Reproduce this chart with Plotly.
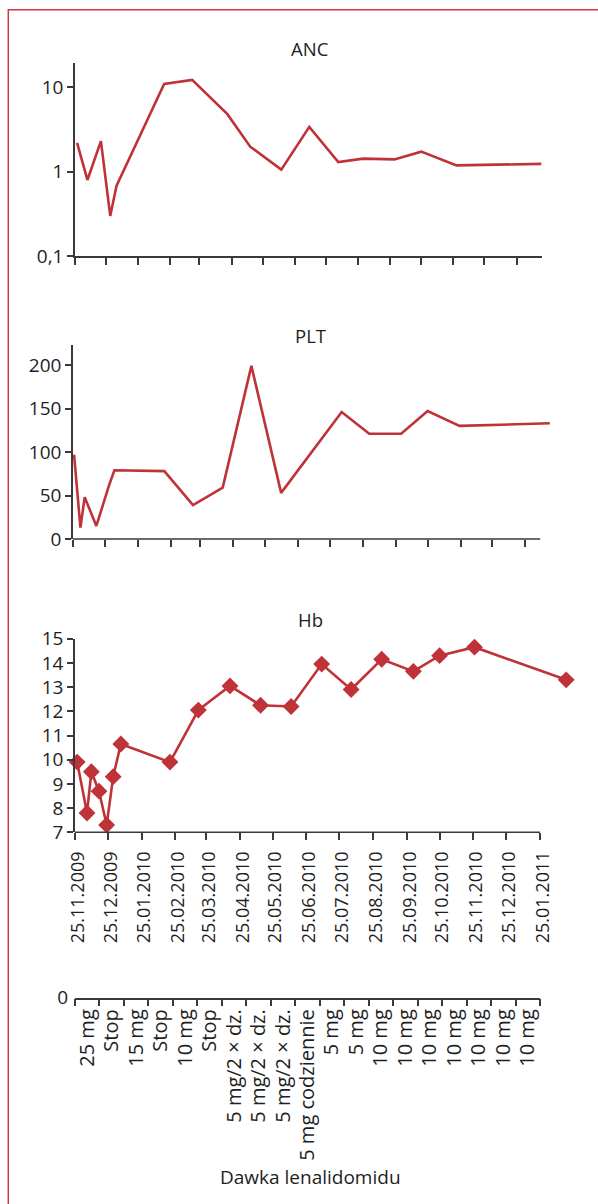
import plotly.graph_objects as go

W, H = 598, 1204

# ---------------- data ----------------
anc_dates = ["2009-11-27", "2009-12-07", "2009-12-20", "2009-12-29", "2010-01-04",
             "2010-02-19", "2010-03-18", "2010-04-21", "2010-05-13", "2010-06-12",
             "2010-07-09", "2010-08-06", "2010-08-30", "2010-09-29", "2010-10-25",
             "2010-11-28", "2011-02-18"]
anc_values = [2.2, 0.8, 2.3, 0.3, 0.68, 10.9, 12.2, 4.8, 1.98, 1.06,
              3.4, 1.3, 1.43, 1.4, 1.73, 1.19, 1.24]

plt_dates = ["2009-11-26", "2009-12-02", "2009-12-06", "2009-12-17", "2009-12-29",
             "2010-01-03", "2010-02-19", "2010-03-18", "2010-04-15", "2010-05-12",
             "2010-06-09", "2010-08-05", "2010-08-31", "2010-09-30", "2010-10-25",
             "2010-11-24", "2011-02-17"]
plt_values = [97, 13, 48, 15, 62, 79, 78, 39, 59, 199, 53, 146, 121, 121, 147, 130, 133]

hb_dates = ["2009-11-27", "2009-12-06", "2009-12-10", "2009-12-17", "2009-12-24",
            "2009-12-30", "2010-01-06", "2010-02-20", "2010-03-18", "2010-04-16",
            "2010-05-14", "2010-06-11", "2010-07-09", "2010-08-05", "2010-09-02",
            "2010-10-01", "2010-10-25", "2010-11-26", "2011-02-18"]
hb_values = [9.9, 7.8, 9.5, 8.7, 7.3, 9.3, 10.65, 9.9, 12.05, 13.05,
             12.25, 12.2, 13.95, 12.9, 14.15, 13.65, 14.3, 14.65, 13.3]

month_ticks = ["2009-11-25", "2009-12-25", "2010-01-25", "2010-02-25", "2010-03-25",
               "2010-04-25", "2010-05-25", "2010-06-25", "2010-07-25", "2010-08-25",
               "2010-09-25", "2010-10-25", "2010-11-25", "2010-12-25", "2011-01-25"]

doses = ["25 mg", "Stop", "15 mg", "Stop", "10 mg", "Stop",
         "5 mg/2 × dz.", "5 mg/2 × dz.", "5 mg/2 × dz.", "5 mg codziennie",
         "5 mg", "5 mg", "10 mg", "10 mg", "10 mg", "10 mg", "10 mg", "10 mg", "10 mg"]

# ---------------- style ----------------
RED = "#bf3238"
BORDER = "#cc3a44"
AX = "#3a3a3a"
TXT = "#1e1e1e"
FONT = "Open Sans"


def px_x(p):
    return p / W


def px_y(p):
    return 1 - p / H


fig = go.Figure()

fig.add_trace(go.Scatter(x=anc_dates, y=anc_values, mode="lines",
                         line=dict(color=RED, width=2.6), xaxis="x", yaxis="y",
                         showlegend=False, hoverinfo="skip"))
fig.add_trace(go.Scatter(x=plt_dates, y=plt_values, mode="lines",
                         line=dict(color=RED, width=2.6), xaxis="x2", yaxis="y2",
                         showlegend=False, hoverinfo="skip"))
fig.add_trace(go.Scatter(x=hb_dates, y=hb_values, mode="lines+markers",
                         line=dict(color=RED, width=2.6),
                         marker=dict(symbol="diamond", size=13, color=RED),
                         xaxis="x3", yaxis="y3", showlegend=False, hoverinfo="skip",
                         cliponaxis=False))
fig.add_trace(go.Scatter(x=list(range(len(doses))), y=[0] * len(doses), mode="markers",
                         marker=dict(opacity=0), xaxis="x4", yaxis="y4",
                         showlegend=False, hoverinfo="skip"))

tickfont = dict(family=FONT, size=19, color=TXT)

common_x = dict(type="date", tickvals=month_ticks, ticks="outside", ticklen=7,
                tickcolor=AX, tickwidth=1.5, showgrid=False, zeroline=False,
                linecolor=AX, linewidth=1.5, fixedrange=True, automargin=False)
common_y = dict(showline=True, linecolor=AX, linewidth=1.5, ticks="outside",
                ticklen=6, tickcolor=AX, tickwidth=1.5, showgrid=False,
                zeroline=False, tickfont=tickfont, fixedrange=True, automargin=False)

layout = dict(
    template="none",
    width=W, height=H, margin=dict(l=0, r=0, t=0, b=0, pad=0, autoexpand=False),
    paper_bgcolor="white", plot_bgcolor="rgba(0,0,0,0)",
    font=dict(family=FONT, color=TXT),
    showlegend=False,
    xaxis=dict(common_x, domain=[px_x(75), px_x(541.5)], anchor="y",
               range=["2009-11-25", "2011-02-18"], showline=True, showticklabels=False),
    yaxis=dict(common_y, domain=[px_y(256.3), px_y(62.7)], anchor="x", type="log",
               range=[-1, 1.29], tickvals=[0.1, 1, 10], ticktext=["0,1", "1", "10"]),
    xaxis2=dict(common_x, domain=[px_x(73), px_x(555)], anchor="y2",
                range=["2009-11-25", "2011-02-21 22:00"], showline=False,
                showticklabels=False),
    yaxis2=dict(common_y, domain=[px_y(539), px_y(345)], anchor="x2",
                range=[0, 223], tickvals=[0, 50, 100, 150, 200]),
    xaxis3=dict(common_x, domain=[px_x(75), px_x(572)], anchor="y3",
                range=["2009-11-25", "2011-02-23 08:00"], showline=False,
                showticklabels=True, tickformat="%d.%m.%Y", tickangle=-90,
                ticklabelstandoff=4, ticklabelshift=3,
                tickfont=dict(family=FONT, size=18, color=TXT)),
    yaxis3=dict(common_y, domain=[px_y(832.3), px_y(638.7)], anchor="x3",
                range=[7, 15], tickvals=list(range(7, 16))),
    xaxis4=dict(domain=[px_x(75), px_x(540)], anchor="y4", range=[-0.5, len(doses) - 0.5],
                tickvals=list(range(len(doses))), ticktext=doses, ticks="",
                tickangle=-90, showline=True, linecolor=AX, linewidth=1.5,
                showgrid=False, zeroline=False, fixedrange=True, automargin=False,
                ticklabelstandoff=2,
                tickfont=dict(family=FONT, size=20, color=TXT),
                minor=dict(tickvals=[i - 0.5 for i in range(len(doses) + 1)],
                           ticks="outside", ticklen=7, tickcolor=AX, tickwidth=1.5,
                           showgrid=False)),
    yaxis4=dict(domain=[px_y(997.5), px_y(985)], anchor="x4", range=[0, 1],
                tickvals=[0], ticktext=["0"], ticks="", showline=False,
                showgrid=False, zeroline=False, tickfont=tickfont, fixedrange=True,
                automargin=False, ticklabelstandoff=6),
)
fig.update_layout(**layout)

# titles
for txt, py, sz in [("ANC", 48, 18.5), ("PLT", 335, 18.5), ("Hb", 619, 18.5),
                     ("Dawka lenalidomidu", 1177, 19)]:
    fig.add_annotation(text=txt, x=px_x(310), y=px_y(py), xref="paper", yref="paper",
                       showarrow=False, xanchor="center", yanchor="middle",
                       font=dict(family=FONT, size=sz, color=TXT))

# x-axis lines for PLT and Hb (axis ends before the last data point)
fig.add_shape(type="line", xref="x2", yref="y2 domain", x0="2009-11-25", x1="2011-02-08",
              y0=0, y1=0, line=dict(color=AX, width=1.5))
fig.add_shape(type="line", xref="x3", yref="y3 domain", x0="2009-11-25", x1="2011-01-25",
              y0=0, y1=0, line=dict(color=AX, width=1.5))

# red frame
fig.add_shape(type="rect", xref="paper", yref="paper", x0=px_x(8.3), x1=px_x(640),
              y0=px_y(1260), y1=px_y(9.7), line=dict(color=BORDER, width=1.5),
              fillcolor="rgba(0,0,0,0)", layer="below")

fig.write_html("out.html", config={"displayModeBar": False},
               post_script="document.body.style.margin='0';document.body.style.overflow='hidden';")
